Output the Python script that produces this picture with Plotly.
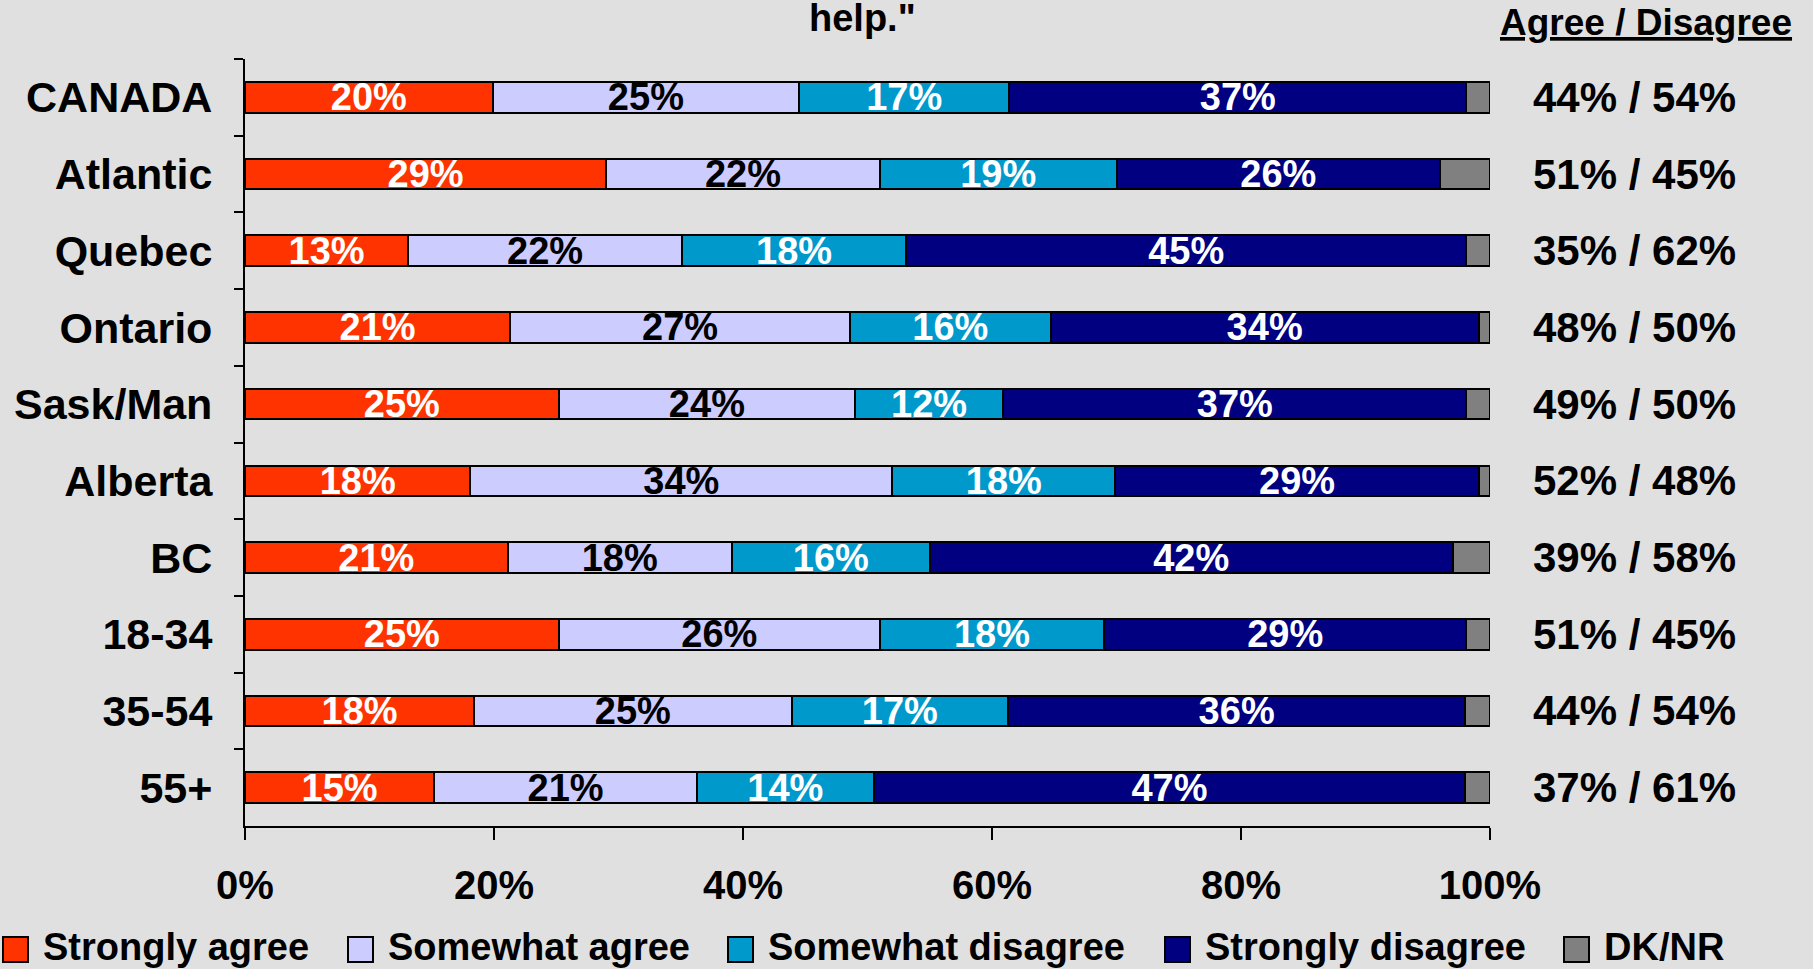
import plotly.graph_objects as go

groups = ["CANADA", "Atlantic", "Quebec", "Ontario", "Sask/Man", "Alberta", "BC", "18-34", "35-54", "55+"]
series = ["Strongly agree", "Somewhat agree", "Somewhat disagree", "Strongly disagree", "DK/NR"]
colors = ["#FF3300", "#CCCCFF", "#0099CC", "#000080", "#808080"]
text_colors = ["white", "black", "white", "white", "white"]

# bar lengths as measured off the chart (%)
strongly_agree = [19.9, 29.0, 13.1, 21.3, 25.2, 18.1, 21.1, 25.2, 18.4, 15.2]
somewhat_agree = [24.6, 22.0, 22.0, 27.3, 23.8, 33.9, 18.0, 25.8, 25.5, 21.1]
somewhat_disagree = [16.9, 19.0, 18.0, 16.1, 11.9, 17.9, 15.9, 18.0, 17.4, 14.2]
strongly_disagree = [36.7, 26.0, 45.0, 34.4, 37.2, 29.2, 42.0, 29.1, 36.7, 47.5]
dk_nr = [1.9, 4.0, 1.9, 0.9, 1.9, 0.9, 3.0, 1.9, 2.0, 2.0]

# printed labels inside the bars
label_sa = [20, 29, 13, 21, 25, 18, 21, 25, 18, 15]
label_swa = [25, 22, 22, 27, 24, 34, 18, 26, 25, 21]
label_swd = [17, 19, 18, 16, 12, 18, 16, 18, 17, 14]
label_sd = [37, 26, 45, 34, 37, 29, 42, 29, 36, 47]

agree_total = [44, 51, 35, 48, 49, 52, 39, 51, 44, 37]
disagree_total = [54, 45, 62, 50, 50, 48, 58, 45, 54, 61]

x_tickvals = [0, 20, 40, 60, 80, 100]
x_ticktext = ["0%", "20%", "40%", "60%", "80%", "100%"]

values = [strongly_agree, somewhat_agree, somewhat_disagree, strongly_disagree, dk_nr]
labels = [label_sa, label_swa, label_swd, label_sd, None]

FONT = "Liberation Sans, Arial, sans-serif"
W, H = 1813, 969
L, R, T, B = 245, 323, 59, 143
PW, PH = W - L - R, H - T - B


def px_x(x):
    return (x - L) / PW


def px_y(y):
    return (H - B - y) / PH


fig = go.Figure()
for name, vals, labs, col, tcol in zip(series, values, labels, colors, text_colors):
    fig.add_trace(go.Bar(
        name=name, y=groups, x=vals, orientation="h",
        marker=dict(color=col, line=dict(color="black", width=2)),
        text=[f"{v}%" for v in labs] if labs else None,
        textposition="inside" if labs else "none",
        insidetextanchor="middle",
        textangle=0,
        constraintext="none",
        textfont=dict(family=FONT, size=38, color=tcol, weight="bold"),
        hoverinfo="skip",
        showlegend=False,
    ))

for g, a, d in zip(groups, agree_total, disagree_total):
    fig.add_annotation(x=px_x(1634), xref="paper", y=g, yref="y", xanchor="center",
                       text=f"{a}% / {d}%", showarrow=False,
                       font=dict(family=FONT, size=42, color="black", weight="bold"))

fig.add_annotation(x=px_x(1646), xref="paper", y=px_y(23), yref="paper", xanchor="center",
                   yanchor="middle", text="<u>Agree / Disagree</u>", showarrow=False,
                   font=dict(family=FONT, size=37, color="black", weight="bold"))
fig.add_annotation(x=px_x(862), xref="paper", y=px_y(18), yref="paper", xanchor="center",
                   yanchor="middle", text='help."', showarrow=False,
                   font=dict(family=FONT, size=38, color="black", weight="bold"))

# legend drawn by hand so it can span the full width like the original
legend_left = [3, 348, 728, 1165, 1564]
for name, col, lx in zip(series, colors, legend_left):
    fig.add_shape(type="rect", xref="paper", yref="paper",
                  x0=px_x(lx), x1=px_x(lx + 25), y0=px_y(962), y1=px_y(937),
                  fillcolor=col, line=dict(color="black", width=2))
    fig.add_annotation(x=px_x(lx + 38), xref="paper", y=px_y(947), yref="paper",
                       xanchor="left", yanchor="middle", text=name, showarrow=False,
                       font=dict(family=FONT, size=38, color="black", weight="bold"))

fig.update_layout(
    width=W, height=H,
    barmode="stack", bargap=0.6,
    paper_bgcolor="#e0e0e0", plot_bgcolor="rgba(0,0,0,0)",
    margin=dict(l=L, r=R, t=T, b=B),
    font=dict(family=FONT, color="black"),
    showlegend=False,
    xaxis=dict(range=[0, 100], tickvals=x_tickvals, ticktext=x_ticktext, showgrid=False,
               zeroline=False, automargin=False,
               showline=True, linecolor="black", linewidth=2, ticks="outside", ticklen=12,
               tickwidth=2, tickcolor="black", ticklabelstandoff=11,
               tickfont=dict(family=FONT, size=40, color="black", weight="bold")),
    yaxis=dict(autorange="reversed", showgrid=False, zeroline=False, showline=True,
               automargin=False,
               linecolor="black", linewidth=2, ticks="outside", ticklen=9, tickwidth=2,
               tickcolor="black", tickson="boundaries", ticklabelstandoff=22,
               tickfont=dict(family=FONT, size=43, color="black", weight="bold")),
)

# drop the browser's default 8px body margin so the figure fills the window
fig.write_html("out.html", config={"displayModeBar": False},
               post_script="document.body.style.margin='0';document.body.style.overflow='hidden';")
